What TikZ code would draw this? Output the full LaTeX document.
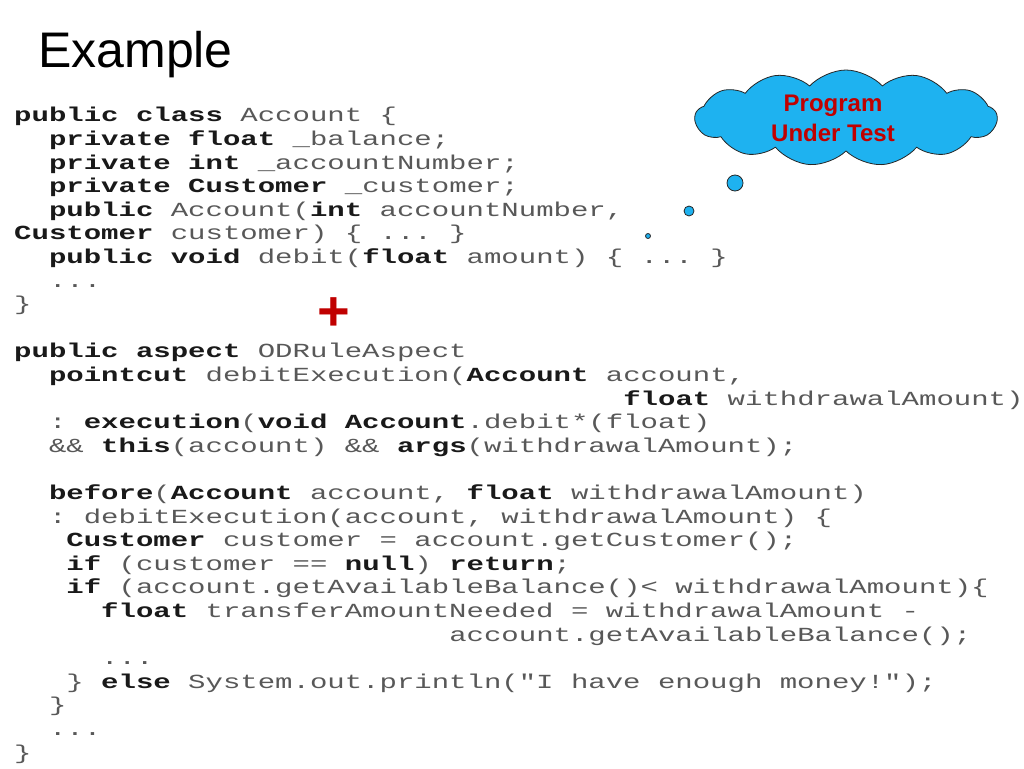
\documentclass[tikz,border=0pt]{standalone}
\usepackage{fontspec}
\setmainfont{Liberation Sans}
\newfontfamily\codefont[FakeStretch=1.45]{Liberation Mono}
\usetikzlibrary{shapes.symbols}
\definecolor{cloudblue}{RGB}{30,178,240}
\definecolor{darkred}{RGB}{192,0,0}
\definecolor{codegray}{RGB}{88,88,88}
\definecolor{codeblack}{RGB}{25,25,25}
\newcommand{\kw}[1]{{\bfseries\color{codeblack}#1}}
\newcommand{\ind}[1]{\hspace*{#1\fontcharwd\font`\x}}
\begin{document}
\begin{tikzpicture}[x=1pt,y=-1pt,line join=round,line cap=round,
	code/.style={anchor=base west,inner sep=0pt,align=left,text=codegray,font=\codefont\fontsize{20}{23.6}\selectfont\frenchspacing},
	bubble/.style={circle,draw=black!85,fill=cloudblue,inner sep=0pt,line width=0.8pt}]
	\useasboundingbox (0,0) rectangle (1024,768);
	\node[anchor=base west,inner sep=0pt,font=\fontsize{50}{60}\selectfont] (title) at (38,67) {Example};
	% source listing (anchored at the baseline of its last line)
	\node[code] (src) at (14,759) {\kw{public class} Account \{\\
		\ind{2}\kw{private float} \_balance;\\
		\ind{2}\kw{private int} \_accountNumber;\\
		\ind{2}\kw{private Customer} \_customer;\\
		\ind{2}\kw{public} Account(\kw{int} accountNumber,\\
		\kw{Customer} customer) \{ ... \}\\
		\ind{2}\kw{public void} debit(\kw{float} amount) \{ ... \}\\
		\ind{2}...\\
		\}\\
		\mbox{}\\
		\kw{public aspect} ODRuleAspect\\
		\ind{2}\kw{pointcut} debitExecution(\kw{Account} account,\\
		\ind{35}\kw{float} withdrawalAmount)\\
		\ind{2}: \kw{execution}(\kw{void Account}.debit*(float)\\
		\ind{2}\&\& \kw{this}(account) \&\& \kw{args}(withdrawalAmount);\\
		\mbox{}\\
		\ind{2}\kw{before}(\kw{Account} account, \kw{float} withdrawalAmount)\\
		\ind{2}: debitExecution(account, withdrawalAmount) \{\\
		\ind{3}\kw{Customer} customer = account.getCustomer();\\
		\ind{3}\kw{if} (customer == \kw{null}) \kw{return};\\
		\ind{3}\kw{if} (account.getAvailableBalance()< withdrawalAmount)\{\\
		\ind{5}\kw{float} transferAmountNeeded = withdrawalAmount -\\
		\ind{25}account.getAvailableBalance();\\
		\ind{5}...\\
		\ind{3}\} \kw{else} System.out.println("I have enough money!");\\
		\ind{2}\}\\
		\ind{2}...\\
		\}};
	\node[text=darkred,font=\bfseries\fontsize{56}{56}\selectfont,inner sep=0pt] (plus) at (334,314) {+};
	% thought cloud
	\node[cloud,cloud puffs=13,cloud puff arc=95,aspect=3.3,draw=black!85,fill=cloudblue,line width=0.8pt,minimum width=302,minimum height=96] (cloud) at (846,118) {};
	\node[text=darkred,align=center,font=\bfseries\fontsize{24}{30}\selectfont] (put) at (833,118) {Program\\Under Test};
	\node[bubble,minimum size=16] (b1) at (735,183) {};
	\node[bubble,minimum size=10] (b2) at (689,211) {};
	\node[bubble,minimum size=5] (b3) at (648,236) {};
\end{tikzpicture}
\end{document}
